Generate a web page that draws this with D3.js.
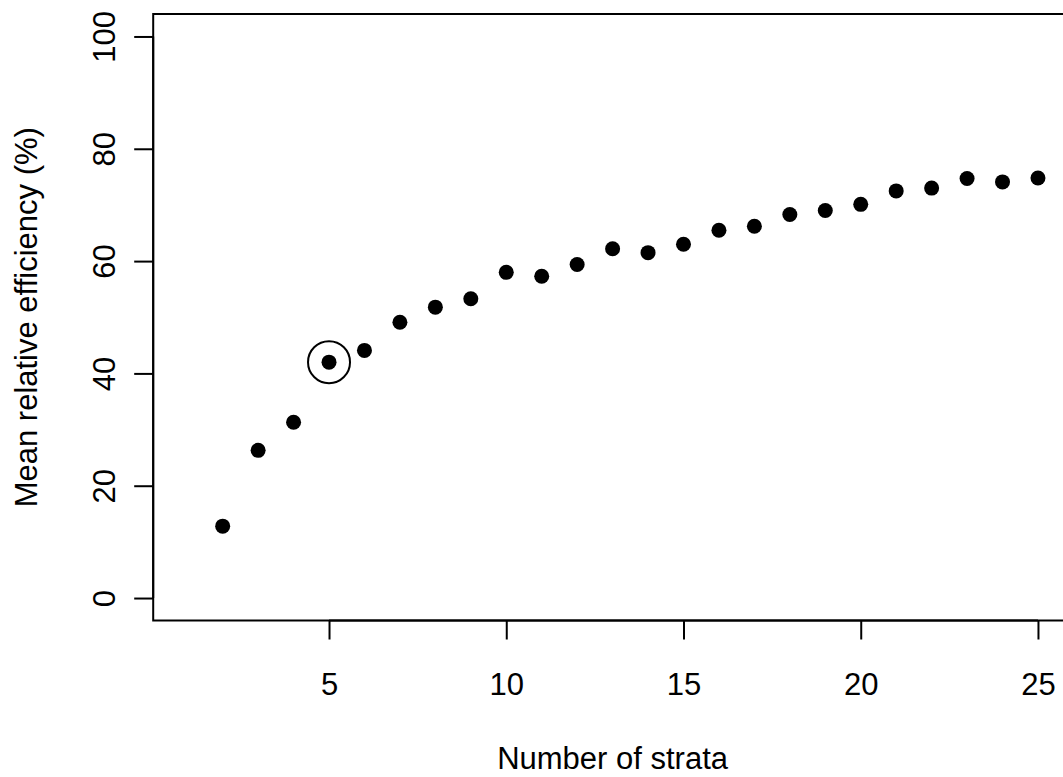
<!DOCTYPE html>
<html>
<head>
<meta charset="utf-8">
<script src="https://cdn.jsdelivr.net/npm/d3@7"></script>
<style>
  body { margin: 0; background: #fff; }
  text { font-family: "Liberation Sans", Arial, sans-serif; fill: #000; }
</style>
</head>
<body>
<script>
var strata = [2, 3, 4, 5, 6, 7, 8, 9, 10, 11, 12, 13, 14, 15, 16, 17, 18, 19, 20, 21, 22, 23, 24, 25];
var efficiency = [12.8, 26.3, 31.3, 42.0, 44.1, 49.1, 51.8, 53.3, 58.0, 57.3, 59.4, 62.2,
                  61.5, 63.0, 65.5, 66.2, 68.3, 69.0, 70.1, 72.5, 73.0, 74.7, 74.1, 74.8];
var xTicks = [5, 10, 15, 20, 25];
var yTicks = [0, 20, 40, 60, 80, 100];
var highlighted = 5;

var width = 1063;
var height = 777;
var fontSize = 31;

var svg = d3.select("body").append("svg")
    .attr("width", width)
    .attr("height", height);

// R-style axes: xlim c(1,25), ylim c(0,100), each padded 4%
var x = d3.scaleLinear().domain([0.04, 25.96]).range([153.2, 1072]);
var y = d3.scaleLinear().domain([-4, 104]).range([620.5, 14]);

// plot box
svg.append("rect")
    .attr("x", x(0.04))
    .attr("y", y(104))
    .attr("width", x(25.96) - x(0.04))
    .attr("height", y(-4) - y(104))
    .attr("fill", "none")
    .attr("stroke", "#000")
    .attr("stroke-width", 2);

// x axis
var xAxis = svg.append("g")
    .attr("transform", "translate(0," + y(-4) + ")")
    .call(d3.axisBottom(x).tickValues(xTicks).tickSize(19).tickSizeOuter(0).tickPadding(0));
xAxis.select(".domain").attr("stroke-width", 2)
    .attr("d", "M" + x(5) + ",0H" + x(25));
xAxis.selectAll(".tick line").attr("stroke-width", 2);
xAxis.selectAll(".tick text")
    .attr("y", 74)
    .attr("dy", null)
    .style("font-size", fontSize + "px")
    .style("font-family", "'Liberation Sans', Arial, sans-serif");

// y axis
var yAxis = svg.append("g")
    .attr("transform", "translate(" + x(0.04) + ",0)")
    .call(d3.axisLeft(y).tickValues(yTicks).tickSize(19).tickSizeOuter(0));
yAxis.select(".domain").attr("stroke-width", 2)
    .attr("d", "M0," + y(0) + "V" + y(100));
yAxis.selectAll(".tick line").attr("stroke-width", 2);
yAxis.selectAll(".tick text")
    .attr("x", null)
    .attr("dy", null)
    .attr("text-anchor", "middle")
    .attr("transform", "translate(" + (115 - x(0.04)) + ",0) rotate(-90)")
    .style("font-size", fontSize + "px")
    .style("font-family", "'Liberation Sans', Arial, sans-serif");

// axis titles
svg.append("text")
    .attr("x", (x(0.04) + x(25.96)) / 2)
    .attr("y", 769)
    .attr("text-anchor", "middle")
    .style("font-size", fontSize + "px")
    .text("Number of strata");

svg.append("text")
    .attr("transform", "translate(37," + (y(-4) + y(104)) / 2 + ") rotate(-90)")
    .attr("text-anchor", "middle")
    .style("font-size", fontSize + "px")
    .text("Mean relative efficiency (%)");

// points
svg.selectAll("circle.pt")
    .data(strata)
    .enter().append("circle")
    .attr("class", "pt")
    .attr("cx", function(d) { return x(d); })
    .attr("cy", function(d, i) { return y(efficiency[i]); })
    .attr("r", 7.5)
    .attr("fill", "#000");

// highlight ring
var hi = strata.indexOf(highlighted);
svg.append("circle")
    .attr("cx", x(strata[hi]))
    .attr("cy", y(efficiency[hi]))
    .attr("r", 21)
    .attr("fill", "none")
    .attr("stroke", "#000")
    .attr("stroke-width", 2);
</script>
</body>
</html>
